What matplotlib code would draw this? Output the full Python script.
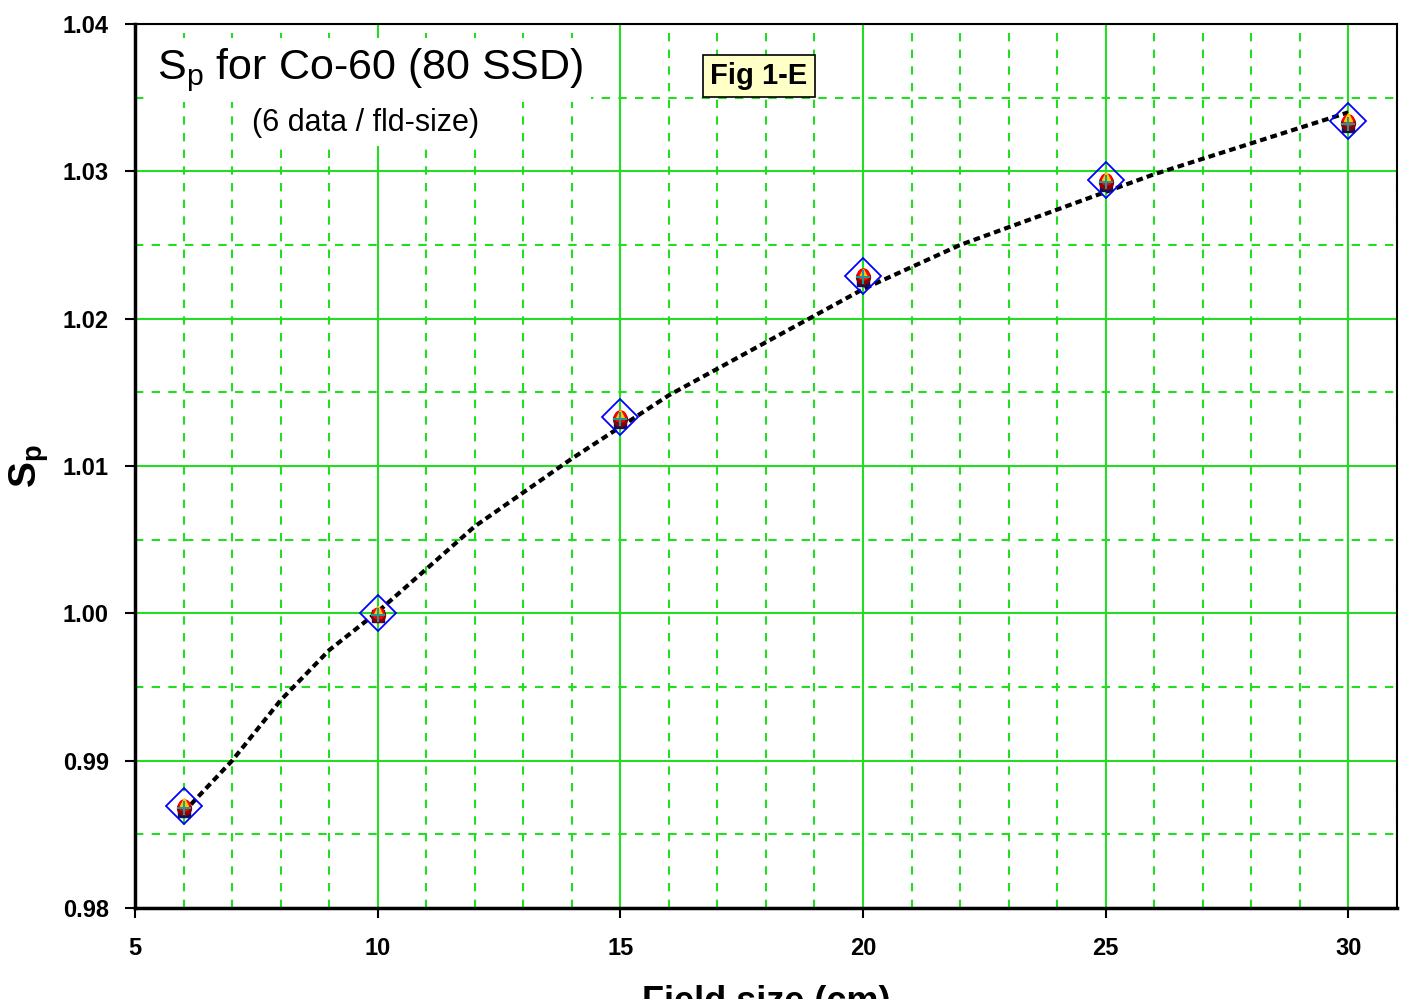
import numpy as np
import matplotlib.pyplot as plt
from matplotlib.ticker import MultipleLocator

plt.rcParams['font.family'] = ['Liberation Sans', 'DejaVu Sans']

# field sizes (cm) and measured Sp values (6 data per field size)
field = [6, 10, 15, 20, 25, 30]
sp_a = [0.9872, 1.0002, 1.0135, 1.0231, 1.0297, 1.0337]   # yellow
sp_b = [0.9870, 1.0000, 1.0134, 1.0230, 1.0295, 1.0335]   # red
sp_c = [0.9868, 0.9999, 1.0132, 1.0228, 1.0293, 1.0333]   # dark red
sp_d = [0.9866, 0.9998, 1.0130, 1.0226, 1.0291, 1.0331]   # navy
sp_e = [0.9868, 0.9999, 1.0132, 1.0228, 1.0293, 1.0332]   # teal cross
sp_mean = [0.9869, 1.0000, 1.0133, 1.0229, 1.0294, 1.0334]

# fitted curve
fit_x = [6, 7, 8, 9, 10, 12, 14, 16, 18, 20, 22, 24, 26, 28, 30]
fit_y = [0.9865, 0.9900, 0.9941, 0.9975, 1.0001, 1.0059, 1.0105, 1.0148,
         1.0184, 1.0220, 1.0250, 1.0274, 1.0298, 1.0319, 1.0340]

yticks = [0.98, 0.99, 1.00, 1.01, 1.02, 1.03, 1.04]

fig = plt.figure(figsize=(14.01, 9.99), dpi=100)
ax = fig.add_axes([0.0964, 0.0911, 0.9006, 0.8849])

ax.set_xlim(5, 31)
ax.set_ylim(0.98, 1.04)
ax.xaxis.set_major_locator(MultipleLocator(5))
ax.xaxis.set_minor_locator(MultipleLocator(1))
ax.yaxis.set_minor_locator(MultipleLocator(0.005))
ax.set_yticks(yticks)
ax.set_yticklabels(['%.2f' % v for v in yticks])

ax.grid(True, which='major', color='#22dd22', linewidth=1.5, linestyle='-')
ax.grid(True, which='minor', color='#22dd22', linewidth=1.5, linestyle=(0, (4, 4)))
ax.set_axisbelow(True)
ax.tick_params(which='major', direction='out', length=7, width=1.5, labelsize=17)
ax.tick_params(axis='x', pad=14)
ax.tick_params(axis='y', pad=12)
ax.tick_params(which='minor', length=0)
for lab in ax.get_xticklabels() + ax.get_yticklabels():
    lab.set_fontweight('bold')
for s in ['left', 'bottom']:
    ax.spines[s].set_linewidth(2.5)
for s in ['top', 'right']:
    ax.spines[s].set_linewidth(1.5)

# fit line
ax.plot(fit_x, fit_y, color='black', linewidth=3, linestyle=(0, (1.6, 1.0)), zorder=3)

# data markers
ax.plot(field, sp_mean, linestyle='none', marker='D', ms=18, mfc='none',
        mec='blue', mew=1.3, zorder=4)
ax.plot(field, sp_d, linestyle='none', marker='s', ms=8, color='#101060', zorder=5)
ax.plot(field, sp_c, linestyle='none', marker='o', ms=10, color='#8b0000', zorder=5)
ax.plot(field, sp_b, linestyle='none', marker='o', ms=8, color='red', zorder=5)
ax.plot(field, sp_a, linestyle='none', marker='^', ms=6, color='#ffcc00', zorder=6)
ax.plot(field, sp_e, linestyle='none', marker='+', ms=10, mew=1.5, color='#1a9a9a', zorder=7)

ax.set_xlabel('Field size (cm)', fontsize=26, fontweight='bold', labelpad=18)
ax.set_ylabel('S$_\\mathregular{p}$', fontsize=28, fontweight='bold', labelpad=8)

ax.text(0.017, 0.975, 'S$_\\mathregular{p}$ for Co-60 (80 SSD)', transform=ax.transAxes,
        fontsize=31, va='top', ha='left', zorder=8,
        bbox=dict(facecolor='white', edgecolor='none', pad=6))
ax.text(0.093, 0.905, '(6 data / fld-size)', transform=ax.transAxes,
        fontsize=22, va='top', ha='left', zorder=8,
        bbox=dict(facecolor='white', edgecolor='none', pad=6))
ax.text(0.4945, 0.941, 'Fig 1-E', transform=ax.transAxes, fontsize=21,
        fontweight='bold', va='center', ha='center', zorder=8,
        bbox=dict(facecolor='#ffffc8', edgecolor='black', linewidth=1.2, pad=5))

fig.savefig('out.png', dpi=100)
